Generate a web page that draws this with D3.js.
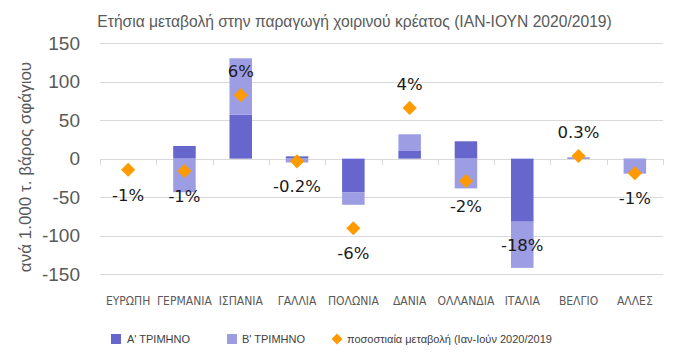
<!DOCTYPE html>
<html>
<head>
<meta charset="utf-8">
<script src="https://cdn.jsdelivr.net/npm/d3@7"></script>
<style>
  body { margin: 0; background: #fff; }
  svg { display: block; }
  .grid line { stroke: #d9d9d9; }
  .ytick text { font-family: "Liberation Sans", Arial, sans-serif; font-size: 19px; fill: #595959; }
  .cat { font-family: "Liberation Sans Narrow", "DejaVu Sans Condensed", sans-serif; font-stretch: condensed; font-size: 12px; fill: #595959; }
  .pct { font-family: "DejaVu Sans", sans-serif; font-size: 16.5px; fill: #1a1a1a; }
  .legend text { font-family: "Liberation Sans", Arial, sans-serif; font-size: 11px; fill: #404040; }
</style>
</head>
<body>
<div id="chart"></div>
<script>
// data (thousand tonnes carcass weight)
var categories = ["ΕΥΡΩΠΗ", "ΓΕΡΜΑΝΙΑ", "ΙΣΠΑΝΙΑ", "ΓΑΛΛΙΑ", "ΠΟΛΩΝΙΑ", "ΔΑΝΙΑ", "ΟΛΛΑΝΔΙΑ", "ΙΤΑΛΙΑ", "ΒΕΛΓΙΟ", "ΑΛΛΕΣ"];
var quarter1 = [0, 16.5, 57, 3, -44, 10, 22.6, -82, 1.5, -0.5];
var quarter2 = [0, -43.6, 73.5, -5, -16, 21.7, -38.7, -60, 0, -19];
var changeMarker = [-14.4, -16, 82.6, -3.5, -90.5, 66, -29, null, 3.4, -19];
var changeLabels = ["-1%", "-1%", "6%", "-0.2%", "-6%", "4%", "-2%", "-18%", "0.3%", "-1%"];
var yTicks = [150, 100, 50, 0, -50, -100, -150];
var seriesNames = ["Α' ΤΡΙΜΗΝΟ", "Β' ΤΡΙΜΗΝΟ", "ποσοστιαία μεταβολή (Ιαν-Ιούν 2020/2019"];

var width = 700, height = 361;
var plot = { left: 100, right: 663, top: 43.3, bottom: 274 };
var colors = ["#6666cc", "#9d9de3"];
var orange = "#ff9a00";

var svg = d3.select("#chart")
  .append("svg")
  .attr("width", width)
  .attr("height", height);

// scales
var xScale = d3.scaleBand()
  .domain(categories)
  .range([plot.left, plot.right])
  .paddingInner(0)
  .paddingOuter(0);

var yScale = d3.scaleLinear()
  .domain([-150, 150])
  .range([plot.bottom, plot.top]);

// title, shrink font until it spans about 515px
var title = svg.append("text")
  .attr("x", 354.5)
  .attr("y", 27)
  .attr("text-anchor", "middle")
  .style("font-family", "'Liberation Sans', Arial, sans-serif")
  .style("font-size", "19px")
  .style("fill", "#595959")
  .text("Ετήσια μεταβολή στην παραγωγή χοιρινού κρέατος (ΙΑΝ-ΙΟΥΝ 2020/2019)");
var titleLen = title.node().getComputedTextLength();
if (titleLen > 515) title.style("font-size", (19 * 515 / titleLen).toFixed(2) + "px");

// gridlines + y labels
var grid = svg.append("g").attr("class", "grid");
grid.selectAll("line")
  .data(yTicks)
  .enter()
  .append("line")
  .attr("x1", plot.left)
  .attr("x2", plot.right)
  .attr("y1", function(d) { return Math.round(yScale(d)) + 0.5; })
  .attr("y2", function(d) { return Math.round(yScale(d)) + 0.5; });

svg.selectAll(".ytick")
  .data(yTicks)
  .enter()
  .append("g")
  .attr("class", "ytick")
  .append("text")
  .attr("x", 80)
  .attr("y", function(d) { return yScale(d); })
  .attr("dy", "0.35em")
  .attr("text-anchor", "end")
  .text(function(d) { return d; });

// category tick marks under the zero line
var boundaries = d3.range(categories.length + 1).map(function(i) { return plot.left + i * xScale.bandwidth(); });
svg.append("g")
  .selectAll("line")
  .data(boundaries)
  .enter()
  .append("line")
  .attr("x1", function(d) { return Math.round(d) + 0.5; })
  .attr("x2", function(d) { return Math.round(d) + 0.5; })
  .attr("y1", Math.round(yScale(0)))
  .attr("y2", Math.round(yScale(0)) + 6)
  .style("stroke", "#d9d9d9");

// y axis title
svg.append("text")
  .attr("transform", "translate(31," + 167 + ") rotate(-90)")
  .attr("text-anchor", "middle")
  .style("font-family", "'Liberation Sans', Arial, sans-serif")
  .style("font-size", "17px")
  .style("fill", "#595959")
  .text("ανά 1.000 τ. βάρος σφάγιου");

// stacked bars (diverging so opposite-signed quarters start at zero)
var table = categories.map(function(c, i) {
  return { cat: c, q1: quarter1[i], q2: quarter2[i] };
});
var stacked = d3.stack()
  .keys(["q1", "q2"])
  .offset(d3.stackOffsetDiverging)(table);

var barWidth = xScale.bandwidth() * 0.4;

svg.append("g")
  .selectAll("g")
  .data(stacked)
  .enter()
  .append("g")
  .style("fill", function(d, i) { return colors[i]; })
  .selectAll("rect")
  .data(function(d) { return d; })
  .enter()
  .append("rect")
  .attr("x", function(d) { return xScale(d.data.cat) + (xScale.bandwidth() - barWidth) / 2; })
  .attr("width", barWidth)
  .attr("y", function(d) { return yScale(Math.max(d[0], d[1])); })
  .attr("height", function(d) { return Math.abs(yScale(d[0]) - yScale(d[1])); });

// diamonds
var diamond = d3.symbol().type(d3.symbolSquare).size(100);
svg.append("g")
  .selectAll("path")
  .data(changeMarker.map(function(v, i) { return { cat: categories[i], v: v }; }).filter(function(d) { return d.v !== null; }))
  .enter()
  .append("path")
  .attr("d", diamond)
  .attr("transform", function(d) {
    return "translate(" + (xScale(d.cat) + xScale.bandwidth() / 2) + "," + yScale(d.v) + ") rotate(45)";
  })
  .style("fill", orange);

// percentage labels
svg.append("g")
  .selectAll("text")
  .data(changeLabels)
  .enter()
  .append("text")
  .attr("class", "pct")
  .attr("x", function(d, i) { return xScale(categories[i]) + xScale.bandwidth() / 2; })
  .attr("y", function(d, i) {
    var v = changeMarker[i];
    if (v === null) {
      // no marker: put the label in the middle of the second quarter segment
      var seg = stacked[1][i];
      return yScale((seg[0] + seg[1]) / 2);
    }
    return yScale(v) + (v >= 0 ? -24 : 25);
  })
  .attr("dy", "0.36em")
  .attr("text-anchor", "middle")
  .text(function(d) { return d; });

// category labels
svg.append("g")
  .selectAll("text")
  .data(categories)
  .enter()
  .append("text")
  .attr("class", "cat")
  .attr("x", function(d) { return xScale(d) + xScale.bandwidth() / 2; })
  .attr("y", 305)
  .attr("text-anchor", "middle")
  .text(function(d) { return d; });

// legend
var legend = svg.append("g").attr("class", "legend");
legend.append("rect").attr("x", 111).attr("y", 334).attr("width", 10).attr("height", 10).style("fill", colors[0]);
legend.append("text").attr("x", 127).attr("y", 343).text(seriesNames[0]);
legend.append("rect").attr("x", 227).attr("y", 334).attr("width", 10).attr("height", 10).style("fill", colors[1]);
legend.append("text").attr("x", 242).attr("y", 343).text(seriesNames[1]);
legend.append("path")
  .attr("d", d3.symbol().type(d3.symbolSquare).size(60))
  .attr("transform", "translate(337,339) rotate(45)")
  .style("fill", orange);
legend.append("text").attr("x", 347).attr("y", 343).text(seriesNames[2]);
</script>
</body>
</html>
